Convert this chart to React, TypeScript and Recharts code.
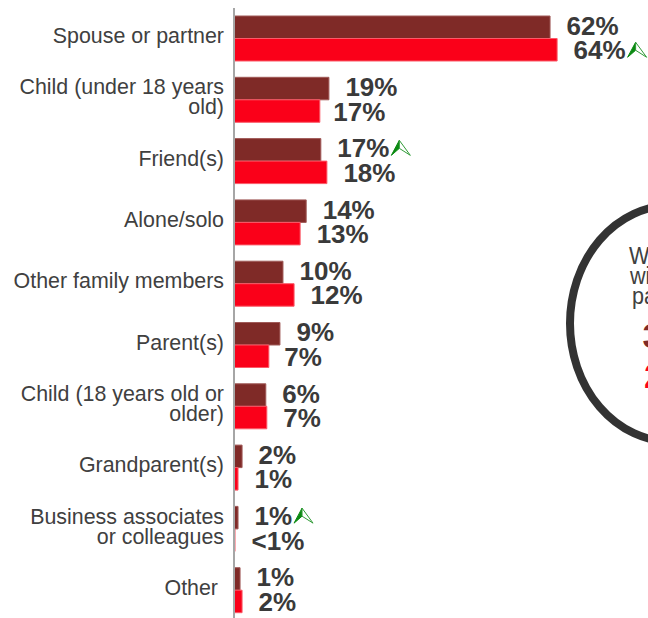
import React from 'react';
import { BarChart, Bar, XAxis, YAxis, LabelList } from 'recharts';

const categories = [
  'Spouse or partner',
  'Child (under 18 years\nold)',
  'Friend(s)',
  'Alone/solo',
  'Other family members',
  'Parent(s)',
  'Child (18 years old or\nolder)',
  'Grandparent(s)',
  'Business associates\nor colleagues',
  'Other',
];
const seriesA = [62.6, 18.8, 17.2, 14.3, 9.7, 9.1, 6.3, 1.6, 0.8, 1.2];
const seriesB = [64, 17, 18.4, 13.1, 11.9, 6.9, 6.5, 0.8, 0.2, 1.6];
const labelsA = ['62%', '19%', '17%', '14%', '10%', '9%', '6%', '2%', '1%', '1%'];
const labelsB = ['64%', '17%', '18%', '13%', '12%', '7%', '7%', '1%', '<1%', '2%'];
const arrowsA = [false, false, true, false, false, false, false, false, true, false];
const arrowsB = [true, false, false, false, false, false, false, false, false, false];

const data = categories.map((name, i) => ({
  name,
  a: seriesA[i],
  b: seriesB[i],
  aLabel: labelsA[i],
  bLabel: labelsB[i],
}));

const FONT = '"Liberation Sans", Arial, sans-serif';

const CategoryTick = ({ x, y, payload }: any) => {
  const lines: string[] = payload.value.split('\n');
  const tx = payload.value === 'Other' ? x : x + 6;
  return (
    <text x={tx} y={y} textAnchor="end" fontFamily={FONT} fontSize={21.4} fill="#404040">
      {lines.map((line, i) => (
        <tspan key={line} x={tx} y={y + 4.5 + (i - (lines.length - 1) / 2) * 20}>
          {line}
        </tspan>
      ))}
    </text>
  );
};

const Arrow = ({ x, y }: { x: number; y: number }) => (
  <g transform={`translate(${x},${y})`}>
    <path d="M8 0 L0 15 L8 8 Z" fill="#0b8a12" stroke="#0b8a12" strokeWidth={1} />
    <path d="M8 0 L19 15 L8 8 Z" fill="#fff" stroke="#2f9a36" strokeWidth={1} />
  </g>
);

const makeLabel = (arrows: boolean[], dy: number, shift: Record<number, number> = {}) => (props: any) => {
  const { x, y, width, height, index, value } = props;
  const left = x + width + 16.5 + (shift[index] ?? 0);
  const mid = y + height / 2 + dy;
  const textWidth = String(value).length === 3 ? 52 : 37.5;
  return (
    <g>
      <text x={left} y={mid + 9} fontFamily={FONT} fontSize={26} fontWeight="bold" fill="#3a3a3a">
        {value}
      </text>
      {arrows[index] && <Arrow x={left + textWidth + 2} y={mid - 8} />}
    </g>
  );
};

const CalloutLine = ({ x, y, children }: { x: number; y: number; children: string }) => (
  <text transform={`translate(${x},${y}) scale(0.9,1)`} fontFamily={FONT} fontSize={24} fill="#404040">
    {children}
  </text>
);

const App = () => (
  <div style={{ position: 'absolute', left: 0, top: 0, width: 648, height: 618, overflow: 'hidden', background: '#fff' }}>
    <BarChart
      width={648}
      height={621}
      data={data}
      layout="vertical"
      margin={{ top: 8, right: 0, bottom: 0, left: 0 }}
      barSize={22.5}
      barGap={0}
    >
      <XAxis type="number" hide domain={[0, 82]} />
      <YAxis
        type="category"
        dataKey="name"
        width={234}
        tickLine={false}
        interval={0}
        tickMargin={10}
        tick={CategoryTick}
        axisLine={{ stroke: '#a6a6a6', strokeWidth: 2 }}
      />
      <Bar dataKey="a" fill="#7f2a27" stroke="#a05a58" strokeWidth={1} isAnimationActive={false}>
        <LabelList dataKey="aLabel" content={makeLabel(arrowsA, -1.5)} />
      </Bar>
      <Bar dataKey="b" fill="#fa0019" stroke="#fb5a68" strokeWidth={1} isAnimationActive={false}>
        <LabelList dataKey="bLabel" content={makeLabel(arrowsB, 0.5, { 1: -3, 5: -1 })} />
      </Bar>
      <ellipse cx={671} cy={323.5} rx={101} ry={118} fill="#fff" stroke="#333333" strokeWidth={8} />
      <CalloutLine x={629} y={264}>W</CalloutLine>
      <CalloutLine x={630} y={284}>wi</CalloutLine>
      <CalloutLine x={632} y={304}>pa</CalloutLine>
      <text x={642.5} y={348} fontFamily={FONT} fontSize={35} fontWeight="bold" fill="#7f2a27">3</text>
      <text x={644} y={388} fontFamily={FONT} fontSize={35} fontWeight="bold" fill="#fa0019">2</text>
    </BarChart>
  </div>
);

export default App;
